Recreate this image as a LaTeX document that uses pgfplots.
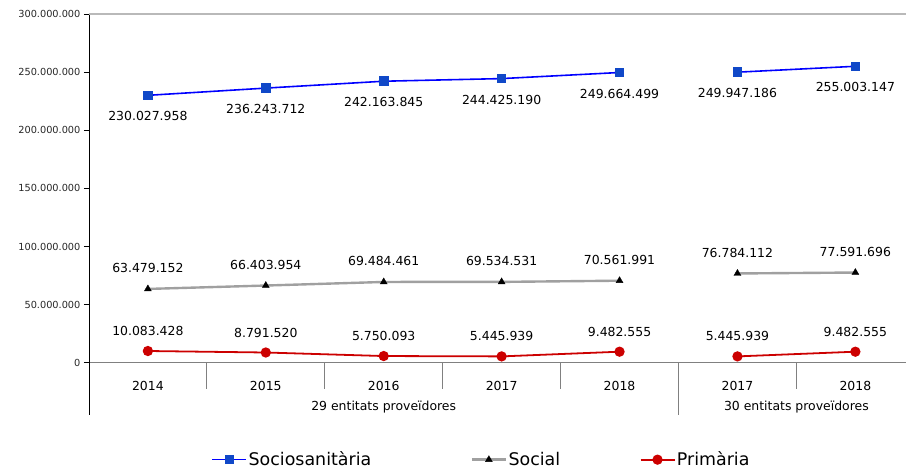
\documentclass[border=0pt]{standalone}
\usepackage{fontspec}
\setmainfont{DejaVu Sans}
\usepackage{pgfplots}
\usepackage{pgfplotstable}
\pgfplotsset{compat=1.18}
\definecolor{socline}{HTML}{0000FF}
\definecolor{socmark}{HTML}{1048C8}
\definecolor{socialline}{HTML}{A0A0A0}
\definecolor{primred}{HTML}{CC0000}
\definecolor{sepgray}{HTML}{808080}

\pgfplotstableread{
x y label
0 230027958 230.027.958
1 236243712 236.243.712
2 242163845 242.163.845
3 244425190 244.425.190
4 249664499 249.664.499
5 249947186 249.947.186
6 255003147 255.003.147
}\socio
\pgfplotstableread{
x y label
0 63479152 63.479.152
1 66403954 66.403.954
2 69484461 69.484.461
3 69534531 69.534.531
4 70561991 70.561.991
5 76784112 76.784.112
6 77591696 77.591.696
}\social
\pgfplotstableread{
x y label
0 10083428 10.083.428
1 8791520 8.791.520
2 5750093 5.750.093
3 5445939 5.445.939
4 9482555 9.482.555
5 5445939 5.445.939
6 9482555 9.482.555
}\prim

\begin{document}
\begin{tikzpicture}
\begin{axis}[
 scale only axis, width=818bp, height=349bp,
 xmin=-0.5, xmax=6.432, ymin=0, ymax=300000000,
 axis x line*=bottom, axis y line*=left,
 x axis line style={draw=sepgray, line width=1.2pt, -},
 y axis line style={draw=black, line width=0.8pt, -},
 xtick={0,1,2,3,4,5,6}, xticklabels={2014,2015,2016,2017,2018,2017,2018},
 xtick style={draw=none},
 xticklabel style={anchor=center, yshift=-18bp, inner sep=0pt, font=\fontsize{12.5}{14}\selectfont},
 ytick={0,50000000,100000000,150000000,200000000,250000000,300000000},
 yticklabels={0,50.000.000,100.000.000,150.000.000,200.000.000,250.000.000,300.000.000},
 yticklabel style={font=\fontsize{9.8}{12}\selectfont, text=black!85},
 ytick style={draw=black, line width=0.8pt},
 tick align=outside, major tick length=5bp,
 scaled y ticks=false,
 clip=false,
 legend style={at={(0.48,-0.278)}, anchor=center, draw=none, fill=none,
   legend columns=3, font=\fontsize{17.5}{19}\selectfont,
   nodes={inner xsep=1.5bp},
   /tikz/column 2/.style={column sep=98bp},
   /tikz/column 4/.style={column sep=78bp}},
 legend image code/.code={\draw[mark repeat=2,mark phase=2] plot coordinates {(0bp,0bp) (17bp,0bp) (34bp,0bp)};},
 nodes near coords style={anchor=center, inner sep=0pt, text=black, font=\fontsize{12.5}{14}\selectfont},
]
% Sociosanitaria
\addplot[socline, line width=1.6pt, mark=square*, mark size=4bp,
  mark options={fill=socmark, draw=socmark, solid},
  restrict x to domain=0:4, nodes near coords, point meta=explicit symbolic,
  nodes near coords style={yshift=-21bp}]
  table[x=x,y=y,meta=label]{\socio};
\addlegendentry{Sociosanitària}
\addplot[socline, line width=1.6pt, mark=square*, mark size=4bp,
  mark options={fill=socmark, draw=socmark, solid},
  restrict x to domain=5:6, nodes near coords, point meta=explicit symbolic,
  nodes near coords style={yshift=-21bp}, forget plot]
  table[x=x,y=y,meta=label]{\socio};
% Social
\addplot[socialline, line width=2.4pt, mark=triangle*, mark size=4bp,
  mark options={fill=black, draw=black, line width=0.4pt, solid},
  restrict x to domain=0:4, nodes near coords, point meta=explicit symbolic,
  nodes near coords style={yshift=21bp}]
  table[x=x,y=y,meta=label]{\social};
\addlegendentry{Social}
\addplot[socialline, line width=2.4pt, mark=triangle*, mark size=4bp,
  mark options={fill=black, draw=black, line width=0.4pt, solid},
  restrict x to domain=5:6, nodes near coords, point meta=explicit symbolic,
  nodes near coords style={yshift=21bp}, forget plot]
  table[x=x,y=y,meta=label]{\social};
% Primaria
\addplot[primred, line width=1.8pt, mark=*, mark size=4.2bp,
  mark options={fill=primred, draw=primred, solid},
  restrict x to domain=0:4, nodes near coords, point meta=explicit symbolic,
  nodes near coords style={yshift=20bp}]
  table[x=x,y=y,meta=label]{\prim};
\addlegendentry{Primària}
\addplot[primred, line width=1.8pt, mark=*, mark size=4.2bp,
  mark options={fill=primred, draw=primred, solid},
  restrict x to domain=5:6, nodes near coords, point meta=explicit symbolic,
  nodes near coords style={yshift=20bp}, forget plot]
  table[x=x,y=y,meta=label]{\prim};

% top border line
\draw[gray!55, line width=1.4pt] (axis cs:-0.5,300000000) -- (axis cs:6.432,300000000);
% category separators
\draw[sepgray, line width=1.2pt] (axis cs:0.5,0) -- ([yshift=-26bp]axis cs:0.5,0);
\draw[sepgray, line width=1.2pt] (axis cs:1.5,0) -- ([yshift=-26bp]axis cs:1.5,0);
\draw[sepgray, line width=1.2pt] (axis cs:2.5,0) -- ([yshift=-26bp]axis cs:2.5,0);
\draw[sepgray, line width=1.2pt] (axis cs:3.5,0) -- ([yshift=-26bp]axis cs:3.5,0);
\draw[sepgray, line width=1.2pt] (axis cs:5.5,0) -- ([yshift=-26bp]axis cs:5.5,0);
\draw[sepgray, line width=1.2pt] (axis cs:4.5,0) -- ([yshift=-52bp]axis cs:4.5,0);
\draw[black, line width=0.8pt] (axis cs:-0.5,0) -- ([yshift=-52bp]axis cs:-0.5,0);
% group labels
\node[anchor=center, inner sep=0pt, font=\fontsize{12.5}{14}\selectfont] at ([yshift=-44bp]axis cs:2,0) {29 entitats proveïdores};
\node[anchor=center, inner sep=0pt, font=\fontsize{12.5}{14}\selectfont] at ([yshift=-44bp]axis cs:5.5,0) {30 entitats proveïdores};
\end{axis}
\path (current axis.south west) ++(-89bp,-107bp) rectangle ([yshift=14bp]current axis.north east);
\end{tikzpicture}
\end{document}
